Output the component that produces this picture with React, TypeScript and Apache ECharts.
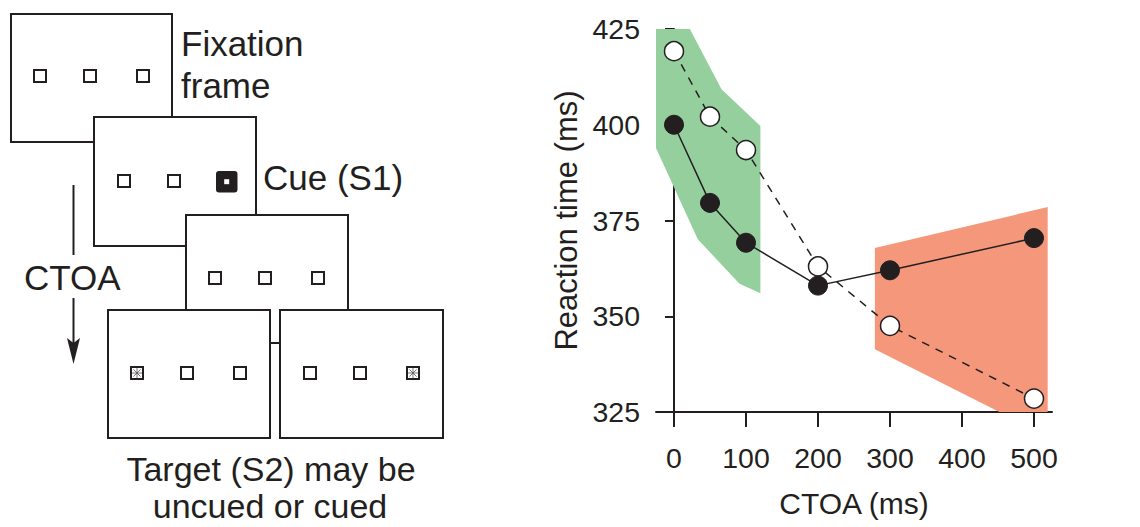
import React, { useEffect, useRef } from "react";
import * as echarts from "echarts";

// ---- Data ----
const ctoa = [0, 50, 100, 200, 300, 500];
const cuedRT = [400, 379.6, 369.2, 358, 362, 370.4];
const uncuedRT = [419.2, 402.1, 393.4, 363, 347.5, 328.5];
const earlyBandX = [-25, 22, 66, 120, 120, 91, 33, -25];
const earlyBandY = [425, 425, 409.3, 399.7, 356, 358.5, 370.1, 393.9];
const lateBandX = [279, 519, 519, 452, 279];
const lateBandY = [367.8, 378.5, 325, 325, 341.4];
const xTicks = [0, 100, 200, 300, 400, 500];
const yRange = [325, 425];
const xRange = [-25, 525];

const INK = "#231f20";
const FONT = "Liberation Sans, Arial, sans-serif";

function box(x: number, y: number, w: number, h: number) {
  return {
    type: "rect",
    shape: { x, y, width: w, height: h },
    style: { fill: "#fff", stroke: INK, lineWidth: 2 },
  };
}
function sq(cx: number, cy: number) {
  return {
    type: "rect",
    shape: { x: cx - 6, y: cy - 6, width: 12, height: 12 },
    style: { fill: "#fff", stroke: INK, lineWidth: 2 },
  };
}
function starSq(cx: number, cy: number) {
  const r = 5;
  const d = 3.6;
  return {
    type: "group",
    children: [
      { type: "rect", shape: { x: cx - 6, y: cy - 6, width: 12, height: 12 }, style: { fill: "#fff", stroke: INK, lineWidth: 2 } },
      { type: "line", shape: { x1: cx - r, y1: cy, x2: cx + r, y2: cy }, style: { stroke: "#555", lineWidth: 0.8 } },
      { type: "line", shape: { x1: cx, y1: cy - r, x2: cx, y2: cy + r }, style: { stroke: "#555", lineWidth: 0.8 } },
      { type: "line", shape: { x1: cx - d, y1: cy - d, x2: cx + d, y2: cy + d }, style: { stroke: "#555", lineWidth: 0.8 } },
      { type: "line", shape: { x1: cx - d, y1: cy + d, x2: cx + d, y2: cy - d }, style: { stroke: "#555", lineWidth: 0.8 } },
    ],
  };
}
function txt(text: string, x: number, y: number, align = "left", size = 35) {
  return {
    type: "text",
    style: { text, x, y, font: `${size}px ${FONT}`, fill: INK, textAlign: align, textVerticalAlign: "middle", verticalAlign: "middle", align },
  };
}

export default function App() {
  const ref = useRef<HTMLDivElement>(null);
  useEffect(() => {
    if (!ref.current) return;
    const chart = echarts.init(ref.current, undefined, { renderer: "svg" });
    const bandSeries = (xs: number[], ys: number[], color: string) => ({
      type: "custom",
      silent: true,
      z: 1,
      data: [[xs[0], ys[0]]],
      encode: { x: 0, y: 1 },
      renderItem: (_p: any, api: any) => ({
        type: "polygon",
        shape: { points: xs.map((x, i) => api.coord([x, ys[i]])) },
        style: { fill: color },
      }),
    });
    const diagram = [
      box(11, 14, 161, 128),
      sq(40, 76), sq(90, 76), sq(143, 76),
      box(94, 117, 162, 129),
      sq(124, 181), sq(174, 181),
      { type: "rect", shape: { x: 216, y: 171, width: 21.5, height: 21.5, r: 3 }, style: { fill: INK } },
      { type: "rect", shape: { x: 224.2, y: 179.2, width: 5, height: 5 }, style: { fill: "#fff" } },
      box(186, 215, 162, 128),
      sq(215, 278), sq(265, 278), sq(318, 278),
      box(108, 310, 162, 128),
      starSq(137, 373), sq(187, 373), sq(240, 373),
      box(280, 310, 163, 128),
      sq(310, 373), sq(360, 373), starSq(413, 373),
      { type: "line", shape: { x1: 73.5, y1: 185, x2: 73.5, y2: 255 }, style: { stroke: INK, lineWidth: 2 } },
      { type: "line", shape: { x1: 73.5, y1: 298, x2: 73.5, y2: 348 }, style: { stroke: INK, lineWidth: 2 } },
      { type: "polygon", shape: { points: [[67, 338], [73.5, 343], [80, 338], [73.5, 364]] }, style: { fill: INK } },
      txt("Fixation", 181, 43),
      txt("frame", 181, 85),
      txt("Cue (S1)", 263, 177),
      txt("CTOA", 24, 277),
      txt("Target (S2) may be", 271, 469, "center", 34),
      txt("uncued or cued", 270, 506, "center", 34),
    ];
    chart.setOption({
      animation: false,
      textStyle: { fontFamily: FONT },
      grid: { left: 656, right: 88, top: 29, bottom: 115, outerBoundsMode: "none" },
      xAxis: {
        type: "value",
        min: xRange[0],
        max: xRange[1],
        name: "CTOA (ms)",
        nameLocation: "middle",
        nameGap: 76,
        nameTextStyle: { fontSize: 30, color: INK, fontFamily: FONT },
        splitLine: { show: false },
        axisLine: { show: true, onZero: false, lineStyle: { color: INK, width: 2 } },
        axisTick: { show: true, length: 15, customValues: xTicks, lineStyle: { color: INK, width: 2 } },
        axisLabel: { customValues: xTicks, margin: 31, fontSize: 28.5, color: INK, fontFamily: FONT },
      },
      yAxis: {
        type: "value",
        min: yRange[0],
        max: yRange[1],
        interval: 25,
        name: "Reaction time (ms)",
        nameLocation: "middle",
        nameGap: 74,
        nameRotate: 90,
        nameTextStyle: { fontSize: 31, color: INK, fontFamily: FONT },
        splitLine: { show: false },
        axisLine: { show: true, lineStyle: { color: INK, width: 2 } },
        axisTick: { show: true, length: 9, lineStyle: { color: INK, width: 2 } },
        axisLabel: { margin: 16, fontSize: 28.5, color: INK, fontFamily: FONT },
      },
      series: [
        bandSeries(earlyBandX, earlyBandY, "#95cf9d"),
        bandSeries(lateBandX, lateBandY, "#f5977b"),
        {
          type: "line",
          z: 3,
          data: ctoa.map((x, i) => [x, uncuedRT[i]]),
          symbol: "circle",
          symbolSize: 19,
          lineStyle: { color: INK, width: 1.5, type: [8, 7] },
          itemStyle: { color: "#fff", borderColor: INK, borderWidth: 1.5 },
        },
        {
          type: "line",
          z: 4,
          data: ctoa.map((x, i) => [x, cuedRT[i]]),
          symbol: "circle",
          symbolSize: 19,
          lineStyle: { color: INK, width: 1.5 },
          itemStyle: { color: INK, borderColor: INK, borderWidth: 1 },
        },
      ],
      graphic: diagram,
    });
    return () => chart.dispose();
  }, []);
  return (
    <div
      ref={ref}
      style={{ position: "fixed", left: 0, top: 0, width: 1140, height: 527, background: "#fff" }}
    />
  );
}
